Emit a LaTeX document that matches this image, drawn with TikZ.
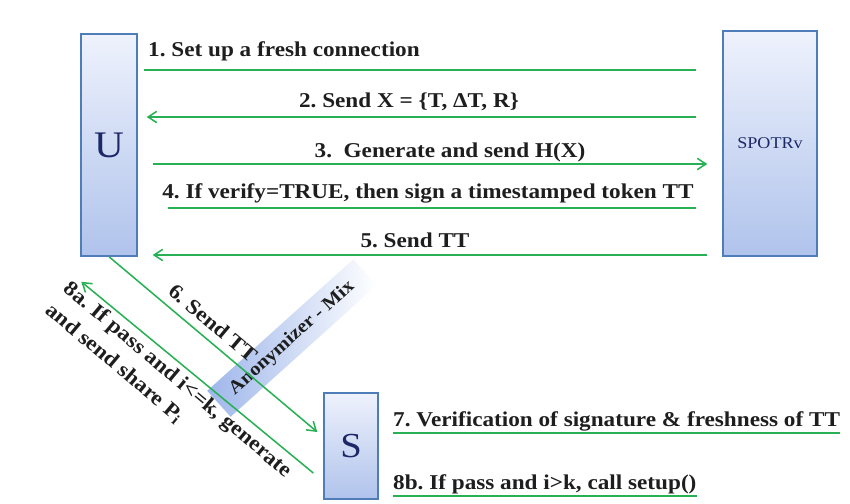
\documentclass[tikz,border=0pt]{standalone}
\usepackage{fontspec}
\setmainfont{Liberation Serif}[FakeStretch=1.1]
\frenchspacing
\usetikzlibrary{arrows.meta,calc,positioning}
\definecolor{msggreen}{RGB}{40,176,84}
\definecolor{boxedge}{RGB}{79,125,186}
\definecolor{boxtop}{RGB}{238,242,252}
\definecolor{boxbottom}{RGB}{176,195,236}
\definecolor{letterblue}{RGB}{30,40,105}
\definecolor{textdark}{RGB}{30,30,30}
\definecolor{mixblue}{RGB}{158,182,234}
\tikzset{
  party/.style={draw=boxedge, line width=1.2pt, top color=boxtop,
    bottom color=boxbottom, inner sep=0pt, text=letterblue},
  msg/.style={msggreen, line width=1.3pt},
  msgarrow/.style={msg, -{Straight Barb[length=2.6mm,width=3.4mm]}},
  steplabel/.style={font=\bfseries\fontsize{18}{24}\selectfont,
    text=textdark, inner sep=0pt}
}

\begin{document}
\begin{tikzpicture}[x=0.03cm,y=-0.03cm]
  \useasboundingbox (0,0) rectangle (850,503);

  % Anonymizer band
  \node[rotate=42, minimum width=5.9cm, minimum height=1.05cm,
    left color=mixblue, right color=white, text=textdark,
    font=\bfseries\fontsize{16}{16}\selectfont] (mix) at (292,338)
    {Anonymizer - Mix};

  % Parties
  \node[party, minimum width=1.68cm, minimum height=6.66cm,
    font=\fontsize{32}{32}\selectfont] (U) at (109,145) {U};
  \node[party, minimum width=2.82cm, minimum height=6.75cm,
    font=\fontsize{14}{14}\selectfont] (V) at (770,143.5) {SPOTRv};
  \node[party, minimum width=1.62cm, minimum height=3.18cm,
    font=\fontsize{30}{30}\selectfont] (S) at (351,446) {S};

  % Messages between U and SPOTRv
  \coordinate (r1) at (0,70);
  \coordinate (r2) at (0,117);
  \coordinate (r3) at (0,164);
  \coordinate (r4) at (0,208);
  \coordinate (r5) at (0,255);
  \draw[msg, shorten <=0.18cm, shorten >=0.78cm] (U.east |- r1) -- (V.west |- r1);
  \draw[msgarrow, shorten <=0.78cm, shorten >=0.27cm] (V.west |- r2) -- (U.east |- r2);
  \draw[msgarrow, shorten <=0.45cm, shorten >=0.45cm] (U.east |- r3) -- (V.west |- r3);
  \draw[msg, shorten <=0.9cm, shorten >=0.78cm] (U.east |- r4) -- (V.west |- r4);
  \draw[msgarrow, shorten <=0.45cm, shorten >=0.45cm] (V.west |- r5) -- (U.east |- r5);

  \node[steplabel, anchor=base west] (t1) at (148,56) {1. Set up a fresh connection};
  \node[steplabel, anchor=base] (t2) at (409,107) {2. Send X = \{T, ΔT, R\}};
  \node[steplabel, anchor=base] (t3) at (450,157) {3.\ \ Generate and send H(X)};
  \node[steplabel, anchor=base] (t4) at (428,198)
    {4. If verify=TRUE, then sign a timestamped token TT};
  \node[steplabel, anchor=base] (t5) at (415,247) {5. Send TT};

  % Through the mix to S and back
  \draw[msgarrow] (U.south) -- ($(S.west)+(-6,-14)$)
    node[steplabel, pos=0.45, sloped, above=0.25cm] (t6) {6. Send TT};
  \draw[msgarrow] ($(S.west)+(-10,27)$) -- ($(U.south west)+(1,25)$);
  \node[steplabel, rotate=-40, anchor=west, align=left] (t8a) at (57,297)
    {8a. If pass and i<=k, generate\\and send share P\textsubscript{i}};

  % Checks at S
  \node[steplabel, anchor=base west] (t7) at (393,426)
    {7. Verification of signature \& freshness of TT};
  \node[steplabel, anchor=base west] (t8b) at (393,489)
    {8b. If pass and i>k, call setup()};
  \draw[msg] ([yshift=-0.21cm]t7.base west) -- ([yshift=-0.21cm]t7.base east);
  \draw[msg] ([yshift=-0.21cm]t8b.base west) -- ([yshift=-0.21cm]t8b.base east);
\end{tikzpicture}
\end{document}
